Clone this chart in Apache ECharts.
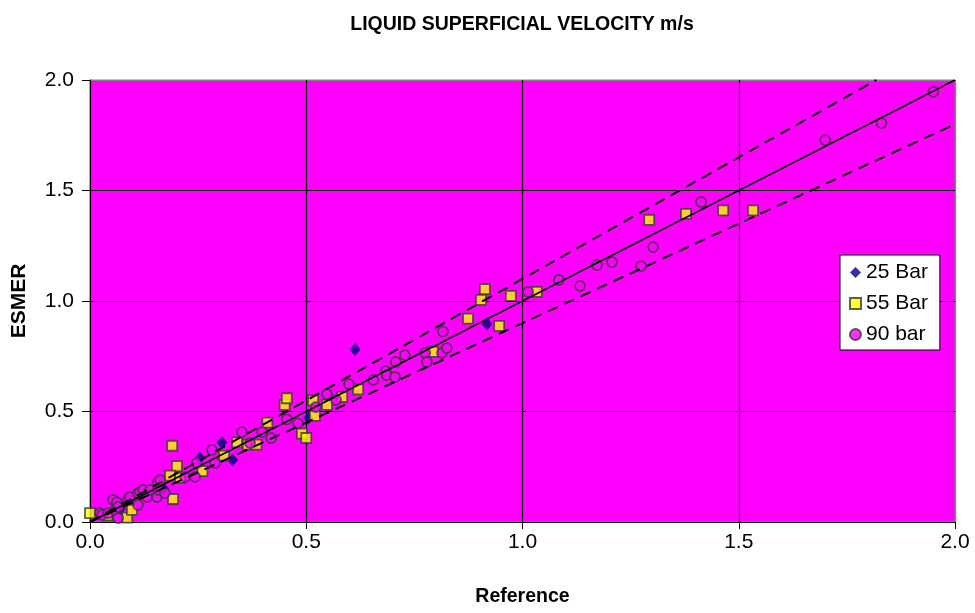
<!DOCTYPE html>
<html>
<head>
<meta charset="utf-8">
<script src="https://cdn.jsdelivr.net/npm/echarts@6/dist/echarts.min.js"></script>
<style>html,body{margin:0;padding:0;background:#fff;}#c{width:975px;height:613px;}</style>
</head>
<body>
<div id="c"></div>
<script>
const titleText = 'LIQUID SUPERFICIAL VELOCITY m/s';
const xName = 'Reference';
const yName = 'ESMER';
const seriesNames = ['25 Bar', '55 Bar', '90 bar'];

const bar25 = [
  [0.07,0.06],[0.17,0.15],[0.254,0.29],[0.305,0.36],[0.33,0.28],[0.505,0.47],[0.613,0.78],[0.918,0.896]
];
const bar55 = [
  [0.0,0.04],[0.04,0.03],[0.086,0.02],[0.097,0.055],[0.192,0.104],[0.19,0.345],[0.201,0.253],[0.185,0.21],
  [0.208,0.20],[0.26,0.23],[0.31,0.30],[0.34,0.36],[0.365,0.35],[0.385,0.35],[0.41,0.45],[0.45,0.53],
  [0.455,0.56],[0.49,0.40],[0.50,0.38],[0.52,0.48],[0.516,0.55],[0.548,0.53],[0.583,0.566],[0.62,0.60],
  [0.793,0.77],[0.874,0.92],[0.904,1.005],[0.913,1.054],[0.946,0.887],[0.973,1.023],[1.033,1.041],
  [1.293,1.367],[1.378,1.394],[1.464,1.41],[1.533,1.41]
];
const bar90 = [
  [0.023,0.04],[0.028,0.032],[0.042,0.04],[0.053,0.10],[0.058,0.054],[0.062,0.09],[0.065,0.018],[0.065,0.068],
  [0.088,0.10],[0.092,0.113],[0.111,0.077],[0.111,0.131],[0.116,0.136],[0.123,0.145],[0.132,0.113],[0.139,0.145],
  [0.155,0.113],[0.157,0.145],[0.157,0.181],[0.162,0.19],[0.173,0.131],[0.22,0.204],[0.243,0.204],[0.247,0.267],
  [0.282,0.326],[0.289,0.267],[0.351,0.407],[0.37,0.357],[0.398,0.407],[0.419,0.38],[0.455,0.464],[0.481,0.446],
  [0.522,0.52],[0.548,0.579],[0.569,0.552],[0.599,0.624],[0.655,0.643],[0.684,0.683],[0.686,0.665],[0.705,0.656],
  [0.707,0.724],[0.728,0.755],[0.775,0.765],[0.779,0.724],[0.814,0.765],[0.816,0.862],[0.825,0.787],
  [1.013,1.041],[1.084,1.095],[1.133,1.068],[1.172,1.163],[1.207,1.176],[1.274,1.158],[1.302,1.244],
  [1.413,1.448],[1.70,1.728],[1.83,1.805],[1.95,1.946]
];
const lineIdeal = [[0,0],[2,2]];
const lineUpper = [[0,0],[1.818,2]];
const lineLower = [[0,0],[2,1.8]];
const axisTicks = [0, 0.5, 1.0, 1.5, 2.0];

const chart = echarts.init(document.getElementById('c'), null, {renderer:'canvas'});
const font = '"Liberation Sans", Arial, sans-serif';
const markerBorder = '#383838';
chart.setOption({
  animation: false,
  backgroundColor: '#ffffff',
  textStyle: {fontFamily: font},
  title: {
    text: titleText, left: 517, top: 10, textAlign: 'center',
    textStyle: {fontFamily: font, fontSize: 19.5, fontWeight: 'bold', color: '#000'}
  },
  grid: {left: 90, right: 20, top: 80, bottom: 91, containLabel: false, outerBoundsMode: 'none',
         show: true, backgroundColor: '#FF00FF', borderColor: '#808080', borderWidth: 1},
  legend: {
    data: seriesNames, orient: 'vertical', left: 840, top: 255,
    backgroundColor: '#ffffff', borderColor: '#000', borderWidth: 1, borderRadius: 0,
    padding: [7, 12, 5, 9], itemGap: 10, itemWidth: 11, itemHeight: 11,
    textStyle: {fontFamily: font, fontSize: 21, color: '#000'}
  },
  xAxis: {
    type: 'value', min: axisTicks[0], max: axisTicks[axisTicks.length-1], interval: 0.5,
    name: xName, nameLocation: 'middle', nameGap: 65,
    nameTextStyle: {fontFamily: font, fontSize: 19.5, fontWeight: 'bold', color: '#000'},
    axisLine: {show: true, lineStyle: {color: '#000', width: 1}},
    axisTick: {show: true, length: 7, lineStyle: {color: '#000'}},
    axisLabel: {fontFamily: font, fontSize: 21, color: '#000', margin: 10, formatter: v => v.toFixed(1)},
    splitLine: {show: true, lineStyle: {color: ['#000','#000','#000','#000','#808080'], width: 1.2}}
  },
  yAxis: {
    type: 'value', min: axisTicks[0], max: axisTicks[axisTicks.length-1], interval: 0.5,
    name: yName, nameLocation: 'middle', nameGap: 60, nameRotate: 90,
    nameTextStyle: {fontFamily: font, fontSize: 21, fontWeight: 'bold', color: '#000'},
    axisLine: {show: true, lineStyle: {color: '#000', width: 1}},
    axisTick: {show: true, length: 8, lineStyle: {color: '#000'}},
    axisLabel: {fontFamily: font, fontSize: 21, color: '#000', margin: 16, formatter: v => v.toFixed(1)},
    splitLine: {show: true, lineStyle: {color: ['#000','#000','#000','#000','#808080'], width: 1.2}}
  },
  series: [
    {name: seriesNames[0], type: 'scatter', data: bar25, symbol: 'diamond', symbolSize: [11,13],
     itemStyle: {color: '#000080', borderWidth: 0}, z: 3},
    {name: seriesNames[1], type: 'scatter', data: bar55, symbol: 'rect', symbolSize: 10,
     itemStyle: {color: '#FFFF00', borderColor: markerBorder, borderWidth: 1.8}, z: 3},
    {name: seriesNames[2], type: 'scatter', data: bar90, symbol: 'circle', symbolSize: 10,
     itemStyle: {color: '#FF00FF', borderColor: markerBorder, borderWidth: 1.8}, z: 3},
    {type: 'line', data: lineIdeal, showSymbol: false, symbol: 'none', lineStyle: {color: '#000', width: 1.6}, z: 5, silent: true},
    {type: 'line', data: lineUpper, showSymbol: false, symbol: 'none', lineStyle: {color: '#000', width: 2, type: [11,7]}, z: 5, silent: true},
    {type: 'line', data: lineLower, showSymbol: false, symbol: 'none', lineStyle: {color: '#000', width: 2, type: [11,7]}, z: 5, silent: true}
  ]
});
</script>
</body>
</html>
